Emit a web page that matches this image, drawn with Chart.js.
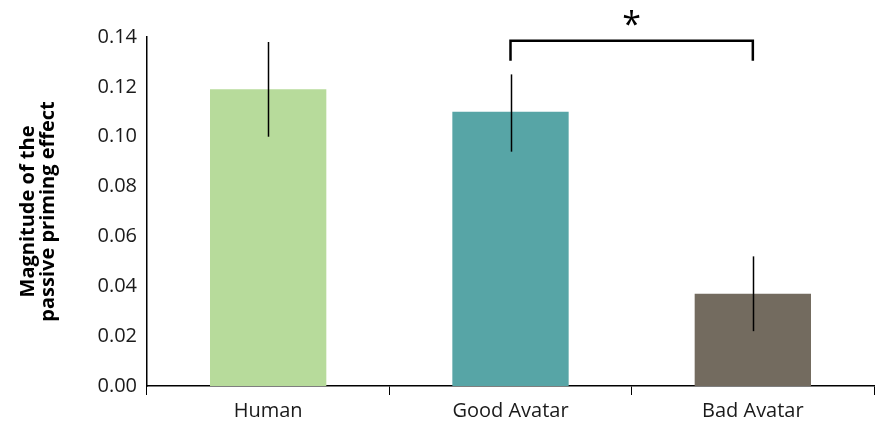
<!DOCTYPE html>
<html>
<head>
<meta charset="utf-8">
<script src="https://cdn.jsdelivr.net/npm/chart.js@4"></script>
<style>
  html, body { margin: 0; padding: 0; background: #fff; }
  #wrap { width: 875px; height: 432px; }
</style>
</head>
<body>
<div id="wrap"><canvas id="priming" width="875" height="432"></canvas></div>
<script>
const categories = ['Human', 'Good Avatar', 'Bad Avatar'];
const magnitudes = [0.119, 0.110, 0.037];
const errLow = [0.100, 0.094, 0.022];
const errHigh = [0.138, 0.125, 0.052];
const barColors = ['#b7db9b', '#57a5a6', '#736b5f'];
const yTicks = [0.00, 0.02, 0.04, 0.06, 0.08, 0.10, 0.12, 0.14];
// significance bracket between Good Avatar and Bad Avatar
const bracket = { from: 1, to: 2, top: 0.1385, leg: 0.1305, star: 0.1475, label: '*' };

const fontFamily = '"Open Sans", "Noto Sans", sans-serif';

// draws error bars and the significance bracket from the scales
const annotations = {
  id: 'annotations',
  afterDatasetsDraw(chart) {
    const ctx = chart.ctx;
    const x = chart.scales.x;
    const y = chart.scales.y;
    ctx.save();
    ctx.strokeStyle = '#000';
    ctx.lineWidth = 1.5;
    magnitudes.forEach((v, i) => {
      const px = Math.round(x.getPixelForValue(i)) + 0.5;
      ctx.beginPath();
      ctx.moveTo(px, y.getPixelForValue(errLow[i]));
      ctx.lineTo(px, y.getPixelForValue(errHigh[i]));
      ctx.stroke();
    });

    const x1 = x.getPixelForValue(bracket.from);
    const x2 = x.getPixelForValue(bracket.to);
    const yt = y.getPixelForValue(bracket.top);
    const yl = y.getPixelForValue(bracket.leg);
    ctx.lineWidth = 2.5;
    ctx.beginPath();
    ctx.moveTo(x1, yl);
    ctx.lineTo(x1, yt);
    ctx.lineTo(x2, yt);
    ctx.lineTo(x2, yl);
    ctx.stroke();

    ctx.fillStyle = '#000';
    ctx.font = '34px ' + fontFamily;
    ctx.textAlign = 'center';
    ctx.textBaseline = 'middle';
    ctx.fillText(bracket.label, (x1 + x2) / 2, y.getPixelForValue(bracket.star) + 8);
    ctx.restore();
  }
};

const ctx = document.getElementById('priming').getContext('2d');
new Chart(ctx, {
  type: 'bar',
  data: {
    labels: categories,
    datasets: [{
      data: magnitudes,
      backgroundColor: barColors,
      borderWidth: 0,
      barPercentage: 0.8,
      categoryPercentage: 0.6
    }]
  },
  options: {
    responsive: false,
    animation: false,
    layout: { padding: { top: 37, right: 1, left: 0, bottom: 0 } },
    plugins: {
      legend: { display: false },
      tooltip: { enabled: false }
    },
    scales: {
      x: {
        grid: {
          display: true,
          drawOnChartArea: false,
          drawTicks: true,
          tickLength: 9,
          color: '#000',
          offset: true
        },
        border: { color: '#000', width: 1.5 },
        ticks: {
          color: '#1a1a1a',
          font: { family: fontFamily, size: 20 },
          padding: 4
        },
        afterFit(scale) { scale.height = 46; }
      },
      y: {
        min: 0,
        max: 0.14,
        afterBuildTicks(scale) {
          scale.ticks = yTicks.map(v => ({ value: v }));
        },
        grid: { display: false, drawTicks: false },
        border: { color: '#000', width: 1.5 },
        ticks: {
          color: '#1a1a1a',
          font: { family: fontFamily, size: 20 },
          padding: 10,
          callback: v => Number(v).toFixed(2)
        },
        title: {
          display: true,
          text: ['Magnitude of the', 'passive priming effect'],
          color: '#000',
          font: { family: fontFamily, size: 20, weight: 'bold', lineHeight: 1.0 },
          padding: { top: 18, bottom: 0 }
        },
        afterFit(scale) { scale.width = 147; }
      }
    }
  },
  plugins: [annotations]
});
</script>
</body>
</html>
